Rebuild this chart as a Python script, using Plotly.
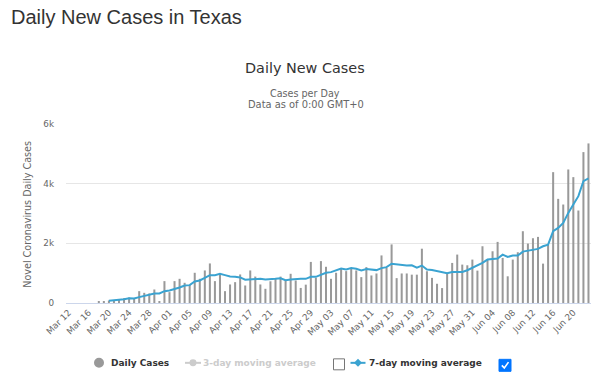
import pandas as pd
import plotly.graph_objects as go

# ---------------- data ----------------
dates = pd.date_range("2020-03-12", periods=104).strftime("%b %d").tolist()

daily_cases = [
    0, 0, 0, 0, 0, 0,
    62, 62, 84, 84, 117, 162, 185, 151, 397, 341, 319, 453, 62, 733,
    364, 733, 811, 677, 599, 1013, 811, 1091, 1326, 733, 957, 397, 621, 699,
    957, 587, 1091, 885, 621, 476, 728, 840, 885, 766, 979, 755, 505, 615,
    1377, 845, 1404, 1214, 811, 1013, 1158, 1069, 1147, 1091, 867, 1203, 923,
    990, 1595, 1181, 1964, 834, 990, 990, 950, 950, 1820, 1065, 842, 645, 500,
    988, 1343, 1623, 1287, 1264, 1455, 1085, 1902, 1455, 1734, 2048, 1511,
    895, 1455, 1701, 2406, 1992, 2171, 2216, 1320, 1947, 4386, 3491, 3301,
    4476, 4219, 3100, 5058, 5349,
]

ma7 = [None] * 8 + [
    73, 84, 95, 129, 162, 151, 196, 241, 274, 319, 319, 397, 420, 464, 520,
    587, 599, 722, 755, 845, 934, 934, 979, 934, 890, 878, 856, 780, 789, 789,
    811, 789, 789, 811, 830, 766, 789, 811, 811, 811, 878, 878, 957, 1013,
    1035, 1102, 1158, 1125, 1169, 1147, 1091, 1136, 1125, 1102, 1169, 1203,
    1315, 1292, 1259, 1259, 1262, 1185, 1256, 1120, 1105, 1070, 1010, 1000,
    1040, 1041, 1041, 1097, 1175, 1264, 1343, 1455, 1477, 1488, 1622, 1544,
    1589, 1589, 1723, 1757, 1768, 1813, 1902, 1958, 2406, 2518, 2685, 3021,
    3301, 3581, 4084, 4174,
]

tick_labels = dates[::4]
y_tickvals = [0, 2000, 4000, 6000]
y_ticktext = ["0", "2k", "4k", "6k"]

# ---------------- geometry helpers (pixel -> paper) ----------------
L, R, T, B = 66, 591, 124, 303.5
W, H = R - L, B - T


def px(x):
    return (x - L) / W


def py(y):
    return (B - y) / H


BAR_COLOR = "#999999"
LINE_COLOR = "#3aa3d1"
OFF_COLOR = "#cccccc"
FONT = "DejaVu Sans"
LEG_Y = 363.5

fig = go.Figure()

fig.add_trace(go.Bar(x=dates, y=daily_cases, marker_color=BAR_COLOR,
                     marker_line_width=0, showlegend=False,
                     name="Daily Cases"))
fig.add_trace(go.Scatter(x=dates, y=ma7, mode="lines",
                         line=dict(color=LINE_COLOR, width=2),
                         showlegend=False, name="7-day moving average"))

# legend entries (text from the legend, symbols drawn as shapes below)
INVIS = dict(size=1, color="rgba(0,0,0,0)")
fig.add_trace(go.Scatter(x=[None], y=[None], mode="markers", marker=INVIS,
                         name="<b>Daily Cases</b>", legend="legend"))
fig.add_trace(go.Scatter(x=[None], y=[None], mode="markers", marker=INVIS,
                         name=f"<b><span style='color:{OFF_COLOR}'>3-day moving average</span></b>",
                         legend="legend2"))
fig.add_trace(go.Scatter(x=[None], y=[None], mode="markers", marker=INVIS,
                         name="<b>7-day moving average</b>", legend="legend3"))

legend_common = dict(orientation="h", yanchor="middle", xanchor="left",
                     bgcolor="rgba(0,0,0,0)", borderwidth=0,
                     font=dict(family=FONT, size=9, color="#333333"))

annotations = [
    dict(text="Daily New Cases in Texas", x=px(9), y=py(17), xanchor="left",
         yanchor="middle",
         font=dict(family="Liberation Sans", size=20, color="#333333")),
    dict(text="Daily New Cases", x=px(305), y=py(67.5), xanchor="center",
         yanchor="middle",
         font=dict(family=FONT, size=14.4, color="#333333")),
    dict(text="Cases per Day", x=px(305), y=py(93), xanchor="center",
         yanchor="middle",
         font=dict(family=FONT, size=9.6, color="#666666")),
    dict(text="Data as of 0:00 GMT+0", x=px(306), y=py(104.5), xanchor="center",
         yanchor="middle",
         font=dict(family=FONT, size=9.9, color="#666666")),
    dict(text="Novel Coronavirus Daily Cases", x=px(28), y=py(215),
         xanchor="center", yanchor="middle", textangle=-90,
         font=dict(family=FONT, size=9.6, color="#666666")),
]
for a in annotations:
    a.update(xref="paper", yref="paper", showarrow=False)


def pp(points):
    return "M " + " L ".join(f"{px(x)} {py(y)}" for x, y in points)


shapes = [
    # legend symbols
    dict(type="circle", x0=px(94), x1=px(104), y0=py(LEG_Y + 5), y1=py(LEG_Y - 5),
         fillcolor=BAR_COLOR, line_width=0),
    dict(type="line", x0=px(185), x1=px(201), y0=py(LEG_Y), y1=py(LEG_Y),
         line=dict(color=OFF_COLOR, width=2)),
    dict(type="circle", x0=px(189.5), x1=px(196.5), y0=py(LEG_Y + 3.5),
         y1=py(LEG_Y - 3.5), fillcolor=OFF_COLOR, line_width=0),
    dict(type="line", x0=px(350.5), x1=px(365.5), y0=py(LEG_Y), y1=py(LEG_Y),
         line=dict(color=LINE_COLOR, width=2)),
    dict(type="path",
         path=pp([(358, LEG_Y - 4), (362, LEG_Y), (358, LEG_Y + 4), (354, LEG_Y)]) + " Z",
         fillcolor=LINE_COLOR, line_width=0),
    # checkboxes
    dict(type="rect", x0=px(333.5), x1=px(344.5), y0=py(370.5), y1=py(359.5),
         line=dict(color="#767676", width=1), fillcolor="white"),
    dict(type="rect", x0=px(499), x1=px(511), y0=py(372), y1=py(360),
         line=dict(color="#0075ff", width=1), fillcolor="#0075ff"),
    dict(type="path", path=pp([(501.8, 366), (504.3, 368.6), (508.5, 362.8)]),
         line=dict(color="white", width=1.6)),
]
for s in shapes:
    s.update(xref="paper", yref="paper")

fig.update_layout(
    width=600, height=391,
    margin=dict(l=L, r=600 - R, t=T, b=391 - B, pad=0, autoexpand=False),
    paper_bgcolor="white", plot_bgcolor="white",
    bargap=0.6,
    font=dict(family=FONT, color="#666666"),
    xaxis=dict(type="category", categoryorder="array", categoryarray=dates,
               range=[-0.5, len(dates) - 0.5], tickmode="array",
               tickvals=tick_labels, ticktext=tick_labels, tickangle=-45,
               tickfont=dict(family=FONT, size=8.8, color="#666666"),
               showgrid=False, showline=True, linecolor="#ccd6eb",
               linewidth=1, ticks="", zeroline=False, fixedrange=True,
               automargin=False),
    yaxis=dict(range=[0, 6000], tickmode="array", tickvals=y_tickvals,
               ticktext=y_ticktext, showgrid=True, gridcolor="#e6e6e6",
               gridwidth=1, zeroline=False, showline=False,
               tickfont=dict(family=FONT, size=8.8, color="#666666"),
               ticklabelstandoff=11, fixedrange=True, automargin=False),
    legend=dict(x=px(71), y=py(LEG_Y), **legend_common),
    legend2=dict(x=px(163), y=py(LEG_Y), **legend_common),
    legend3=dict(x=px(329), y=py(LEG_Y), **legend_common),
    annotations=annotations,
    shapes=shapes,
)

fig.write_html("out.html", config={"displayModeBar": False},
               post_script="document.body.style.margin='0';"
                           "document.body.style.overflow='hidden';")
